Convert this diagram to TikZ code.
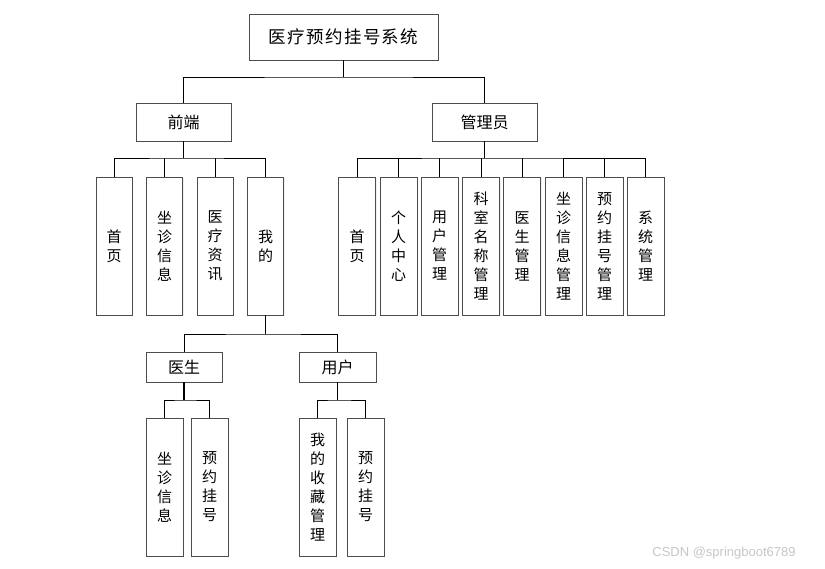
\documentclass[tikz,border=0pt]{standalone}
\usepackage{fontspec}
\newfontfamily\cjk{Noto Sans CJK SC}
\newfontfamily\cjkwide{Noto Sans CJK SC}[LetterSpace=8]
\setsansfont{Liberation Sans}
\usetikzlibrary{shadows}
\begin{document}
\begin{tikzpicture}[x=1pt,y=-1pt,
  box/.style={draw=black!70,line width=0.9pt,fill=white,inner sep=0pt,
    drop shadow={shadow xshift=1.2pt,shadow yshift=-1.2pt,fill=black!12},
    font=\cjk\fontsize{16}{19}\selectfont},
  vbox/.style={box,align=center,minimum height=138pt,font=\cjk\fontsize{15}{19}\selectfont},
  link/.style={draw=black,line width=0.8pt},
  drop/.style={draw=black,line width=1.2pt}]
\useasboundingbox (0,0) rectangle (825,568);
\fill[white] (0,0) rectangle (825,568);

\node[box,minimum width=189pt,minimum height=46pt,font=\cjkwide\fontsize{17.5}{20}\selectfont] (top) at (343.5,37) {医疗预约挂号系统};
\node[box,minimum width=95pt,minimum height=38pt] (fe) at (183.5,122) {前端};
\node[box,minimum width=105pt,minimum height=38pt] (adm) at (484.5,122) {管理员};

\node[vbox,minimum width=36pt] (f1) at (114,246) {首\\页};
\node[vbox,minimum width=36pt] (f2) at (164.5,246) {坐\\诊\\信\\息};
\node[vbox,minimum width=36pt] (f3) at (215,246) {医\\疗\\资\\讯};
\node[vbox,minimum width=36pt] (f4) at (265.5,246) {我\\的};

\node[vbox,minimum width=37pt] (a1) at (357,246) {首\\页};
\node[vbox,minimum width=37pt] (a2) at (398.5,246) {个\\人\\中\\心};
\node[vbox,minimum width=37pt] (a3) at (439.5,246) {用\\户\\管\\理};
\node[vbox,minimum width=37pt] (a4) at (481,246) {科\\室\\名\\称\\管\\理};
\node[vbox,minimum width=37pt] (a5) at (522,246) {医\\生\\管\\理};
\node[vbox,minimum width=37pt] (a6) at (563.5,246) {坐\\诊\\信\\息\\管\\理};
\node[vbox,minimum width=37pt] (a7) at (604.5,246) {预\\约\\挂\\号\\管\\理};
\node[vbox,minimum width=37pt] (a8) at (645.5,246) {系\\统\\管\\理};

\node[box,minimum width=76pt,minimum height=30pt] (doc) at (184,367) {医生};
\node[box,minimum width=77pt,minimum height=30pt] (usr) at (337.5,367) {用户};

\node[vbox,minimum width=37pt] (d1) at (164.5,487) {坐\\诊\\信\\息};
\node[vbox,minimum width=37pt] (d2) at (209.5,487) {预\\约\\挂\\号};
\node[vbox,minimum width=37pt] (u1) at (317.5,487) {我\\的\\收\\藏\\管\\理};
\node[vbox,minimum width=37pt] (u2) at (365.5,487) {预\\约\\挂\\号};

\coordinate (b1) at (343.5,77);
\coordinate (bf) at (183.5,158);
\coordinate (ba) at (484.5,158);
\coordinate (bm) at (265.5,334);
\coordinate (bd) at (184,400);
\coordinate (bu) at (337.5,400);

% level 1
\draw[drop] (top.south) -- (b1);
\draw[link] (fe.north) |- (b1) -| (adm.north);
% front
\draw[drop] (fe.south) -- (bf);
\draw[link] (f1.north) |- (bf) -| (f4.north);
\draw[link] (f2.north) -- (f2.north |- bf);
\draw[link] (f3.north) -- (f3.north |- bf);
% admin
\draw[drop] (adm.south) -- (ba);
\draw[link] (a1.north) |- (ba) -| (a8.north);
\foreach \n in {a2,a3,a4,a5,a6,a7}{\draw[link] (\n.north) -- (\n.north |- ba);}
% my
\draw[drop] (f4.south) -- (bm);
\draw[link] (doc.north) |- (bm) -| (usr.north);
% doctor
\draw[drop] (doc.south) -- (bd);
\draw[link] (d1.north) |- (bd) -| (d2.north);
% user
\draw[drop] (usr.south) -- (bu);
\draw[link] (u1.north) |- (bu) -| (u2.north);

\node[text=black!22,font=\sffamily\fontsize{13}{15}\selectfont,anchor=center] (wm) at (724,553) {CSDN @springboot6789};
\end{tikzpicture}
\end{document}
